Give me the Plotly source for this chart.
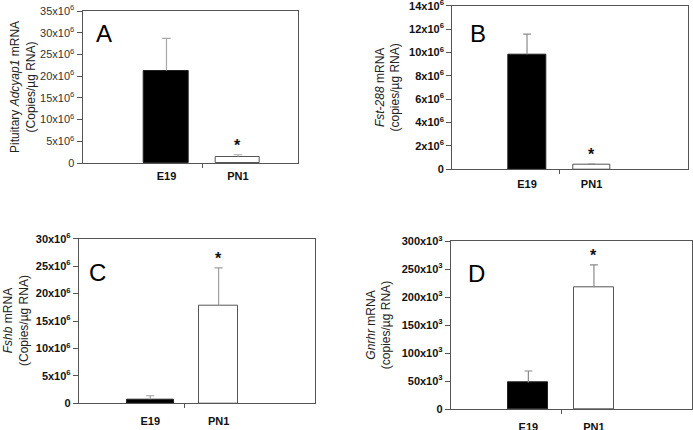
import plotly.graph_objects as go

W, H = 693, 430

groups = ["E19", "PN1"]

# Panel A: Pituitary Adcyap1 mRNA
a_vals = [21.3e6, 1.45e6]
a_err = [7.4e6, 0.45e6]
a_ticks = [0, 5e6, 10e6, 15e6, 20e6, 25e6, 30e6, 35e6]
a_ticktext = ["0", "5x10<sup>6</sup>", "10x10<sup>6</sup>", "15x10<sup>6</sup>", "20x10<sup>6</sup>",
              "25x10<sup>6</sup>", "30x10<sup>6</sup>", "35x10<sup>6</sup>"]

# Panel B: Fst-288 mRNA
b_vals = [9.84e6, 0.37e6]
b_err = [1.73e6, 0.08e6]
b_ticks = [0, 2e6, 4e6, 6e6, 8e6, 10e6, 12e6, 14e6]
b_ticktext = ["0", "2x10<sup>6</sup>", "4x10<sup>6</sup>", "6x10<sup>6</sup>", "8x10<sup>6</sup>",
              "10x10<sup>6</sup>", "12x10<sup>6</sup>", "14x10<sup>6</sup>"]

# Panel C: Fshb mRNA
c_vals = [0.73e6, 17.85e6]
c_err = [0.65e6, 6.85e6]
c_ticks = [0, 5e6, 10e6, 15e6, 20e6, 25e6, 30e6]
c_ticktext = ["0", "5x10<sup>6</sup>", "10x10<sup>6</sup>", "15x10<sup>6</sup>", "20x10<sup>6</sup>",
              "25x10<sup>6</sup>", "30x10<sup>6</sup>"]

# Panel D: Gnrhr mRNA
d_vals = [47.4e3, 218e3]
d_err = [20.6e3, 40e3]
d_ticks = [0, 50e3, 100e3, 150e3, 200e3, 250e3, 300e3]
d_ticktext = ["0", "50x10<sup>3</sup>", "100x10<sup>3</sup>", "150x10<sup>3</sup>", "200x10<sup>3</sup>",
              "250x10<sup>3</sup>", "300x10<sup>3</sup>"]

significant = [False, True]

panels = [
    dict(letter="A", vals=a_vals, err=a_err, ticks=a_ticks, ticktext=a_ticktext, yr=[0, 35e6],
         xr=[-0.172, 2.84], widths=[0.63, 0.62],
         xdom=[82.7, 298.0], ydom=[11.0, 163.0], bold=False, errcol="#a8a8a8",
         title="Pituitary <i>Adcyap1</i> mRNA<br>(Copies/µg RNA)", title_x=23, letter_xy=(104, 34),
         xlab_standoff=3),
    dict(letter="B", vals=b_vals, err=b_err, ticks=b_ticks, ticktext=b_ticktext, yr=[0, 14e6],
         xr=[-0.158, 3.49], widths=[0.59, 0.58],
         xdom=[452.3, 687.7], ydom=[5.7, 169.3], bold=True, errcol="#8a8a8a",
         title="<i>Fst-288</i> mRNA<br>(copies/µg RNA)", title_x=387, letter_xy=(478, 33),
         xlab_standoff=4),
    dict(letter="C", vals=c_vals, err=c_err, ticks=c_ticks, ticktext=c_ticktext, yr=[0, 30e6],
         xr=[-0.042, 3.41], widths=[0.69, 0.575],
         xdom=[79.0, 315.0], ydom=[238.7, 403.3], bold=True, errcol="#a0a0a0",
         title="<i>Fshb</i> mRNA<br>(Copies/µg RNA)", title_x=16, letter_xy=(97, 272),
         xlab_standoff=7),
    dict(letter="D", vals=d_vals, err=d_err, ticks=d_ticks, ticktext=d_ticktext, yr=[0, 300e3],
         xr=[-0.18, 3.5], widths=[0.61, 0.61],
         xdom=[451.0, 692.3], ydom=[241.3, 409.0], bold=True, errcol="#8a8a8a",
         title="<i>Gnrhr</i> mRNA<br>(copies/µg RNA)", title_x=379, letter_xy=(476, 273),
         xlab_standoff=8),
]

fig = go.Figure()
FONT = "Liberation Sans, Arial, sans-serif"
LINE = "#555555"
CAP = 0.06  # half cap width in category units

for i, p in enumerate(panels):
    n = "" if i == 0 else str(i + 1)
    xa, ya = "x" + n, "y" + n
    fig.add_trace(go.Bar(
        x=[1, 2], y=p["vals"], width=p["widths"], xaxis=xa, yaxis=ya,
        marker=dict(color=["#000000", "#ffffff"], line=dict(color=["#222222", "#555555"], width=1)),
        showlegend=False, hoverinfo="skip",
    ))
    # upward-only error bars built from the data
    ex, ey = [], []
    for j, (v, e) in enumerate(zip(p["vals"], p["err"])):
        xc = j + 1
        ex += [xc, xc, None, xc - CAP, xc + CAP, None]
        ey += [v, v + e, None, v + e, v + e, None]
    fig.add_trace(go.Scatter(x=ex, y=ey, xaxis=xa, yaxis=ya, mode="lines",
                             line=dict(color=p["errcol"], width=1.2),
                             showlegend=False, hoverinfo="skip", connectgaps=False))
    tickfont = dict(family=FONT, size=11, color="#111" if p["bold"] else "#333",
                    weight="bold" if p["bold"] else "normal")
    fig.layout["xaxis" + n] = dict(
        domain=[p["xdom"][0] / W, p["xdom"][1] / W], range=p["xr"], anchor=ya,
        tickvals=[1, 2], ticktext=groups, ticks="", showgrid=False, zeroline=False,
        tickfont=dict(family=FONT, size=11, color="#111", weight="bold"),
        ticklabelstandoff=p["xlab_standoff"], automargin=False, ticklabeloverflow="allow",
        showline=True, linecolor=LINE, linewidth=1.3, mirror=True,
        minor=dict(tickvals=[1.5], ticks="outside", ticklen=4, tickcolor=LINE, tickwidth=1),
        fixedrange=True,
    )
    fig.layout["yaxis" + n] = dict(
        domain=[1 - p["ydom"][1] / H, 1 - p["ydom"][0] / H], range=p["yr"], anchor=xa,
        tickvals=p["ticks"], ticktext=p["ticktext"], ticks="outside", ticklen=5,
        tickcolor=LINE, showgrid=False, zeroline=False, tickfont=tickfont, automargin=False,
        ticklabeloverflow="allow",
        showline=True, linecolor=LINE, linewidth=1.3, mirror=True, fixedrange=True,
    )
    # significance stars
    for j in range(2):
        if significant[j]:
            fig.add_annotation(x=j + 1, y=p["vals"][j] + p["err"][j], xref=xa, yref=ya,
                               text="<b>*</b>", showarrow=False, yanchor="bottom", yshift=-1,
                               font=dict(family=FONT, size=16, color="#111"))
    # panel letter
    fig.add_annotation(x=p["letter_xy"][0] / W, y=1 - p["letter_xy"][1] / H, xref="paper", yref="paper",
                       text=p["letter"], showarrow=False, xanchor="center", yanchor="middle",
                       font=dict(family=FONT, size=24, color="#000"))
    # y-axis title
    yc = (p["ydom"][0] + p["ydom"][1]) / 2
    fig.add_annotation(x=p["title_x"] / W, y=1 - yc / H, xref="paper", yref="paper",
                       text=p["title"], showarrow=False, textangle=-90, xanchor="center", yanchor="middle",
                       font=dict(family=FONT, size=12, color="#222"))

fig.update_layout(
    width=W, height=H, margin=dict(l=0, r=0, t=0, b=0, autoexpand=False),
    paper_bgcolor="white", plot_bgcolor="white", bargap=0,
    font=dict(family=FONT),
)

fig.write_html("out.html", config={"displayModeBar": False},
               post_script="document.body.style.margin='0';document.body.style.overflow='hidden';")
